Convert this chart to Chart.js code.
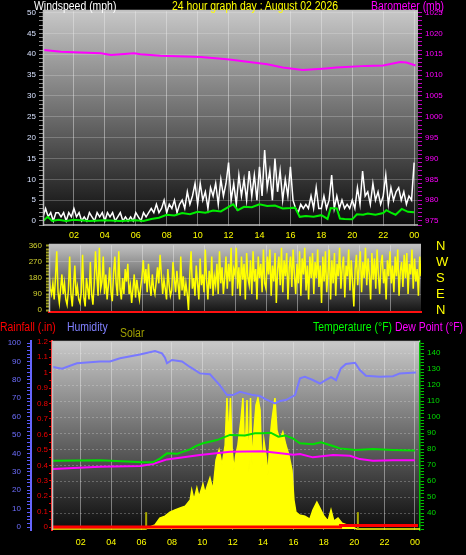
<!DOCTYPE html>
<html><head><meta charset="utf-8">
<script src="https://cdn.jsdelivr.net/npm/chart.js@4.4.0/dist/chart.umd.min.js"></script>
<style>
html,body{margin:0;padding:0;background:#000;width:466px;height:555px;overflow:hidden}
canvas{position:absolute;left:0}
.t{position:absolute;font-family:'Liberation Sans',Arial,sans-serif;font-size:12px;line-height:14px;white-space:nowrap;z-index:5;transform:scaleX(0.87);transform-origin:0 0}
</style></head><body>
<canvas id="c1" width="466" height="244" style="top:0"></canvas>
<canvas id="c2" width="466" height="80" style="top:240px"></canvas>
<canvas id="c3" width="466" height="235" style="top:320px"></canvas>
<div class="t" style="left:34px;top:-1px;color:#ffffff">Windspeed (mph)</div>
<div class="t" style="left:172px;top:-1px;color:#ffff00">24 hour graph day : August 02 2026</div>
<div class="t" style="left:371px;top:-1px;color:#ff00ff">Barometer (mb)</div>
<div class="t" style="left:0px;top:320px;color:#ff0000">Rainfall (.in)</div>
<div class="t" style="left:67px;top:320px;color:#8080ff">Humidity</div>
<div class="t" style="left:120px;top:326px;color:#a0a000">Solar</div>
<div class="t" style="left:313px;top:320px;color:#00ff00">Temperature (°F)</div>
<div class="t" style="left:395px;top:320px;color:#ff00ff">Dew Point (°F)</div>
<script>
// ---------------- DATA ----------------
// Wind gust (mph), every 10 minutes from 00:00 to 24:00
const gustStepHours = 1/6;
const gustValues = [
 1,3,1,2,0,2,  2,1,2,0,2,1,  3,1,2,0,1,0,  2,1,0,2,1,2,
 0,2,1,2,0,1,  2,0,1,0,1,0,  2,1,0,2,1,2,  3,2,4,2,3,5,
 2,4,3,5,2,4,  5,3,7,4,6,9,  4,9,5,7,3,8,  6,9,4,10,6,9,
 14,5,9,4,11,6, 10,5,12,6,11,5, 13,6,17,8,12,5, 15,7,12,5,10,6,
 13,5,3,2,4,3, 4,3,6,3,8,3,  3,6,3,5,11,3, 6,3,5,3,4,3,
 5,3,8,4,12,6, 7,4,9,5,7,4,  6,11,4,8,5,7, 8,5,7,4,6,5,
 14
];
// Average wind speed (mph)
const avgTimes  = [0,0.3,0.6,1,1.5,2,3,4,5,6,6.5,7,7.5,8,8.5,9,9.5,10,10.5,11,11.5,12,12.3,12.6,13,13.5,14,14.5,15,15.5,16,16.3,16.6,17,17.5,18,18.4,18.6,19,19.2,19.5,20,20.3,20.7,21,21.5,22,22.2,22.5,22.8,23.2,23.6,24];
const avgValues = [0,1,0,0.3,0,0.3,0,0.2,0,0.2,0,0.5,0.8,1.5,1.3,1.9,1.6,2.2,2.0,2.5,2.3,3.4,4.0,2.6,3.4,3.3,4.0,3.6,3.7,3.0,3.1,3.2,1.0,1.2,1.0,1.4,0.5,3.1,3.0,0.6,0.5,0.4,1.6,1.5,1.8,1.5,1.9,2.6,2.0,1.5,2.9,2.2,2.1];
// Barometer (mb)
const baroTimes  = [0.06,1.16,3.74,4.4,5.9,6.3,7.6,10.2,11.9,12.3,14.5,15.5,16.8,18.3,18.97,20.9,22.0,23.1,23.5,24.1];
const baroValues = [1016.0,1015.6,1015.2,1014.8,1015.2,1015.0,1014.6,1014.3,1013.8,1013.6,1012.6,1011.8,1011.2,1011.6,1011.8,1012.2,1012.3,1013.1,1013.0,1012.3];
// Wind direction (degrees), every 5 minutes
const dirStepHours = 1/12;
const dirValues = [
 210,120,90,150,60,180,330,100,40,120,200,90,
 150,60,30,110,300,90,20,140,250,80,130,60,
 40,100,310,70,20,180,120,60,270,90,30,150,
 330,200,80,350,120,160,300,90,200,60,140,240,
 100,50,210,300,150,80,330,120,60,180,90,230,
 160,260,90,140,40,120,200,70,170,110,60,130,
 190,280,150,230,100,260,140,80,200,120,90,160,
 240,150,310,200,90,170,120,60,230,140,80,110,
 270,180,100,220,140,60,300,110,190,80,150,90,
 0,200,330,120,180,80,250,150,60,290,140,200,
 100,340,170,60,220,120,300,80,190,140,260,90,
 330,150,240,90,180,300,120,260,160,350,80,230,
 200,350,120,240,80,300,170,260,60,320,180,140,
 280,90,330,160,230,60,300,180,260,100,340,150,
 120,300,200,340,80,250,160,320,40,230,300,140,
 350,100,280,190,320,60,240,300,130,340,200,90,
 260,150,330,80,290,200,350,110,250,60,300,180,
 320,90,270,180,340,130,250,40,300,160,330,100,
 210,340,60,280,150,320,80,260,190,350,120,240,
 300,70,250,190,340,110,280,160,20,230,310,140,
 240,330,100,270,180,350,140,290,200,60,320,170,
 290,120,340,200,90,260,310,150,230,60,280,190,
 330,150,250,100,300,190,340,80,220,270,130,310,
 180,320,90,260,200,340,120,290,160,230,80,300,
 190
];
const dirLabels = {0:'N',90:'E',180:'S',270:'W',360:'N'};
// Humidity (%)
const humTimes  = [0.16,0.76,1.74,3.26,3.92,4.58,5.89,6.88,7.34,7.54,7.67,8.0,8.66,9.18,9.84,10.5,11.16,11.62,12.01,12.48,13.33,13.79,14.19,14.78,15.11,15.5,16.1,16.43,16.75,17.28,17.74,18.14,18.47,18.8,19.12,19.45,20.05,20.37,20.77,21.69,22.55,23.0,24.06];
const humValues = [87,86,89,90,90,91.7,93.8,95.6,94.4,92,89,90.8,90,87,83.5,83,77,71.7,71.7,73.5,71.7,71.2,69.4,67.2,68.5,69,71.7,80.8,81.7,79.9,78,80,81.4,79.8,86.2,88.6,89.3,85.3,82.2,81.7,82,83.5,84];
// Temperature (°F)
const tempTimes  = [0.16,3.26,6.09,6.75,7.2,7.67,8.33,9.18,9.6,10.04,10.96,11.82,12.8,13.46,13.99,14.5,15.0,15.44,15.96,16.2,16.43,17.28,17.81,18.6,19.06,20.1,21.23,22.55,23.99];
const tempValues = [72.7,73,71.7,71.7,74,77.3,77,79.8,82.0,83.6,85.6,88.8,88.5,89.8,89.8,90.2,87.7,88.5,86.7,85,83.6,83,84.2,81.9,80.4,79.4,80,79.4,79];
// Dew point (°F)
const dewTimes  = [0.16,3.26,5.89,6.75,7.67,9.84,11.82,13.99,15.0,16.0,16.43,17.28,18.6,19.72,20.37,21.23,22.55,23.99];
const dewValues = [67.5,69,69.4,70.6,73.5,76.2,78.3,78.6,77.5,76.5,76.9,74.8,76.2,75.8,73.7,72.7,73,73];
// Solar radiation (W/m2)
const solarTimes  = [0.1,6.29,6.42,6.88,7.2,7.54,7.87,8.2,8.54,8.87,9.2,9.3,9.45,9.64,9.78,10.04,10.17,10.5,10.7,10.9,11.1,11.3,11.5,11.62,11.75,11.85,11.95,12.08,12.2,12.34,12.54,12.67,12.8,12.94,13.07,13.17,13.27,13.4,13.53,13.66,13.8,13.92,14.05,14.19,14.32,14.45,14.58,14.78,14.91,15.1,15.3,15.5,15.7,15.9,16.03,16.16,16.4,16.75,17.08,17.28,17.54,17.74,18.0,18.27,18.47,18.66,18.93,19.2,19.52,19.85,20.18,24.33];
const solarValues = [0,0,10,30,81,96,126,141,156,170,215,289,215,304,237,333,267,378,289,511,585,474,622,970,659,970,607,437,548,622,807,970,511,955,422,970,474,733,918,970,881,452,659,548,400,659,807,970,733,659,718,622,548,437,215,126,104,96,74,141,200,156,96,59,141,59,81,44,30,15,0,0];
// Sunrise / sunset markers (hours)
const sunMarks = [6.3, 20.24];
const sunMarkHeight = 125;
// Rainfall (in)
const rainTimes  = [0.1,19.1,24.2];
const rainValues = [0,0.01,0.01];

// ---------------- HELPERS ----------------
const pts = (t, v) => v.map((y, i) => ({x: t[i], y}));
const stepPts = (step, v) => v.map((y, i) => ({x: i * step, y}));
const FONT = "'Liberation Sans', Arial, sans-serif";
const GRID = 'rgba(235,235,235,0.45)';
const hourLabel = v => { v = Math.round(v); return v === 0 ? '' : (v === 24 ? '00' : String(v).padStart(2, '0')); };
const mult = (v, m) => Math.abs(v / m - Math.round(v / m)) < 1e-6;
const fixW = w => s => { s.width = w; s.paddingTop = 0; s.paddingBottom = 0; };
const fixH = h => s => { s.height = h; s.paddingLeft = 0; s.paddingRight = 0; };

const bgPlugin = {
  id: 'bg',
  beforeDraw(chart, args, o) {
    const {ctx, chartArea: a} = chart;
    const g = ctx.createLinearGradient(0, a.top, 0, a.bottom);
    g.addColorStop(0, o.top);
    g.addColorStop(0.5, o.mid);
    g.addColorStop(1, o.bottom);
    ctx.save();
    ctx.fillStyle = g;
    ctx.fillRect(a.left, a.top, a.right - a.left, a.bottom - a.top);
    ctx.restore();
  },
  afterDatasetsDraw(chart, args, o) {
    const {ctx, chartArea: a} = chart;
    ctx.save();
    ctx.strokeStyle = o.frame;
    ctx.lineWidth = 1.5;
    ctx.beginPath();
    ctx.moveTo(a.left + 0.5, a.top);
    ctx.lineTo(a.left + 0.5, a.bottom);
    if (o.frameBottom) { ctx.moveTo(a.left, a.bottom - 1); ctx.lineTo(a.right, a.bottom - 1); }
    ctx.moveTo(a.left, a.top + 0.5); ctx.lineTo(a.right, a.top + 0.5);
    ctx.stroke();
    ctx.restore();
  }
};

Chart.defaults.font.family = FONT;
Chart.defaults.animation = false;

const common = {
  responsive: false,
  devicePixelRatio: 1,
  animation: false,
  events: [],
};

// ---------------- CHART 1: wind + barometer ----------------
new Chart(document.getElementById('c1'), {
  type: 'line',
  plugins: [bgPlugin],
  data: { datasets: [
    { data: pts(avgTimes, avgValues), borderColor: '#00ee00', borderWidth: 2, pointRadius: 0, yAxisID: 'y', order: 1 },
    { data: stepPts(gustStepHours, gustValues), borderColor: '#ffffff', borderWidth: 1.5, pointRadius: 0, yAxisID: 'y', order: 2 },
    { data: pts(baroTimes, baroValues), borderColor: '#ff00ff', borderWidth: 2, pointRadius: 0, yAxisID: 'yb', order: 3 },
  ]},
  options: Object.assign({}, common, {
    layout: { padding: { top: 10, left: 0, right: 0, bottom: 0 } },
    plugins: { legend: {display: false}, tooltip: {enabled: false},
      bg: { top: '#c8c8c8', mid: '#6a6a6a', bottom: '#0a0a0a', frame: '#c0c0c0', frameBottom: true } },
    scales: {
      x: { type: 'linear', min: 0, max: 24.25,
        afterFit: fixH(18),
        ticks: { stepSize: 2, autoSkip: false, maxRotation: 0, color: '#ffff00', font: {size: 9}, padding: 4, callback: hourLabel, includeBounds: false },
        grid: { color: c => (c.tick && c.tick.value > 0) ? GRID : 'rgba(0,0,0,0)', drawTicks: false, lineWidth: 1 },
        border: { display: false } },
      y: { position: 'left', min: -1.2, max: 50.6,
        afterFit: fixW(43),
        ticks: { stepSize: 1, autoSkip: false, color: '#d8e2ff', font: {size: 8}, padding: 3, includeBounds: false,
          callback: v => (v >= 0 && mult(v, 5)) ? String(Math.round(v)) : '' },
        grid: { color: c => (c.tick && c.tick.value > 0 && mult(c.tick.value, 5)) ? 'rgba(235,235,235,0.25)' : 'rgba(0,0,0,0)', tickColor: '#8a8a8a', tickLength: 4 },
        border: { display: false } },
      yb: { position: 'right', min: 973.8, max: 1025.6,
        afterFit: fixW(48),
        ticks: { stepSize: 1, autoSkip: false, color: '#ff00ff', font: {size: 8}, padding: 3, includeBounds: false,
          callback: v => (v >= 975 && mult(v, 5)) ? String(Math.round(v)) : '' },
        grid: { drawOnChartArea: false, tickColor: '#c000c0', tickLength: 4 },
        border: { display: false } },
    }
  })
});

// ---------------- CHART 2: wind direction ----------------
new Chart(document.getElementById('c2'), {
  type: 'line',
  plugins: [bgPlugin],
  data: { datasets: [
    { data: stepPts(dirStepHours, dirValues), borderColor: '#ffff00', borderWidth: 1.5, pointRadius: 0, yAxisID: 'y' },
  ]},
  options: Object.assign({}, common, {
    layout: { padding: { top: 4, left: 0, right: 0, bottom: 8 } },
    plugins: { legend: {display: false}, tooltip: {enabled: false},
      bg: { top: '#c4c4c4', mid: '#6a6a6a', bottom: '#141414', frame: '#c0c0c0', frameBottom: false } },
    scales: {
      x: { type: 'linear', min: 0, max: 24,
        afterFit: fixH(0),
        ticks: { display: false, stepSize: 2, includeBounds: false },
        grid: { color: c => (c.tick && c.tick.value > 0 && c.tick.value < 24) ? GRID : 'rgba(0,0,0,0)', drawTicks: false },
        border: { display: true, color: '#ff1010', width: 2 } },
      y: { position: 'left', min: -11, max: 371,
        afterFit: fixW(49),
        ticks: { stepSize: 18, autoSkip: false, color: '#d4d430', font: {size: 8}, padding: 4, includeBounds: false,
          callback: v => (v >= 0 && mult(v, 90)) ? String(Math.round(v)) : '' },
        grid: { color: c => (c.tick && c.tick.value > 0 && c.tick.value < 360 && mult(c.tick.value, 90)) ? 'rgba(235,235,235,0.25)' : 'rgba(0,0,0,0)', tickColor: '#a0a020', tickLength: 3, tickWidth: 2 },
        border: { display: false } },
      yr: { position: 'right', min: -11, max: 371,
        afterFit: fixW(45),
        ticks: { stepSize: 90, autoSkip: false, color: '#ffff00', font: {size: 13}, padding: 15, includeBounds: false,
          callback: v => dirLabels[Math.round(v)] || '' },
        grid: { drawOnChartArea: false, drawTicks: false },
        border: { display: false } },
    }
  })
});

// ---------------- CHART 3: temperature / humidity / rain / solar ----------------
const sunDatasets = sunMarks.map(h => ({
  data: [{x: h, y: 0}, {x: h, y: sunMarkHeight}], borderColor: '#a8a800', borderWidth: 2, pointRadius: 0, yAxisID: 'ys', order: 5
}));
new Chart(document.getElementById('c3'), {
  type: 'line',
  plugins: [bgPlugin],
  data: { datasets: [
    { data: pts(rainTimes, rainValues), borderColor: '#ff0000', borderWidth: 3, pointRadius: 0, stepped: true, yAxisID: 'yr', order: 1 },
    { data: pts(humTimes, humValues), borderColor: '#7878ff', borderWidth: 2, pointRadius: 0, yAxisID: 'yh', order: 2 },
    { data: pts(tempTimes, tempValues), borderColor: '#00e000', borderWidth: 2, pointRadius: 0, yAxisID: 'yt', order: 3 },
    { data: pts(dewTimes, dewValues), borderColor: '#ff00ff', borderWidth: 2, pointRadius: 0, yAxisID: 'yt', order: 4 },
    ...sunDatasets,
    { data: pts(solarTimes, solarValues), borderColor: '#ffff00', backgroundColor: '#ffff00', borderWidth: 1.5, pointRadius: 0, fill: 'origin', yAxisID: 'ys', order: 6 },
  ]},
  options: Object.assign({}, common, {
    layout: { padding: { top: 21, left: 0, right: 0, bottom: 0 } },
    plugins: { legend: {display: false}, tooltip: {enabled: false}, filler: {propagate: false},
      bg: { top: '#cacaca', mid: '#6a6a6a', bottom: '#0c0c0c', frame: '#c0c0c0', frameBottom: false } },
    scales: {
      x: { type: 'linear', min: 0.1, max: 24.33,
        afterFit: fixH(25),
        ticks: { stepSize: 2, autoSkip: false, maxRotation: 0, color: '#ffff00', font: {size: 9}, padding: 7, callback: hourLabel, includeBounds: false },
        grid: { color: c => (c.tick && c.tick.value > 0.5 && c.tick.value < 24.2) ? GRID : 'rgba(0,0,0,0)', drawTicks: false },
        border: { display: false } },
      yh: { position: 'left', weight: 2, min: -1.6, max: 101.1,
        afterFit: fixW(31),
        ticks: { stepSize: 2, autoSkip: false, color: '#6e6eff', font: {size: 8}, padding: 6, includeBounds: false,
          callback: v => (v >= 0 && mult(v, 10)) ? String(Math.round(v)) : '' },
        grid: { drawOnChartArea: false, tickColor: '#5a5aff', tickLength: 4 },
        border: { display: true, color: '#6666ff', width: 2 } },
      yr: { position: 'left', weight: 1, min: -0.019, max: 1.205,
        afterFit: fixW(21),
        ticks: { stepSize: 0.05, autoSkip: false, color: '#ee0000', font: {size: 8}, padding: 1, includeBounds: false,
          callback: v => (v >= -1e-6 && mult(v, 0.1)) ? String(parseFloat(v.toFixed(1))) : '' },
        grid: { drawOnChartArea: false, tickColor: '#dd0000', tickLength: 3 },
        border: { display: true, color: '#ff2020', width: 2, dash: [2, 2] } },
      yt: { position: 'right', min: 29.4, max: 147.5,
        afterFit: fixW(46),
        ticks: { stepSize: 2, autoSkip: false, color: '#00dd00', font: {size: 8}, padding: 3, includeBounds: false,
          callback: v => (v >= 40 && mult(v, 10)) ? String(Math.round(v)) : '' },
        grid: { color: c => (c.tick && c.tick.value >= 40 && mult(c.tick.value, 10)) ? 'rgba(235,235,235,0.28)' : 'rgba(0,0,0,0)', tickColor: '#00c000', tickLength: 4 },
        border: { display: true, color: '#00c000', width: 1.5, dash: [2, 2] } },
      ys: { display: false, min: -7, max: 1393 },
    }
  })
});
</script>
</body></html>
